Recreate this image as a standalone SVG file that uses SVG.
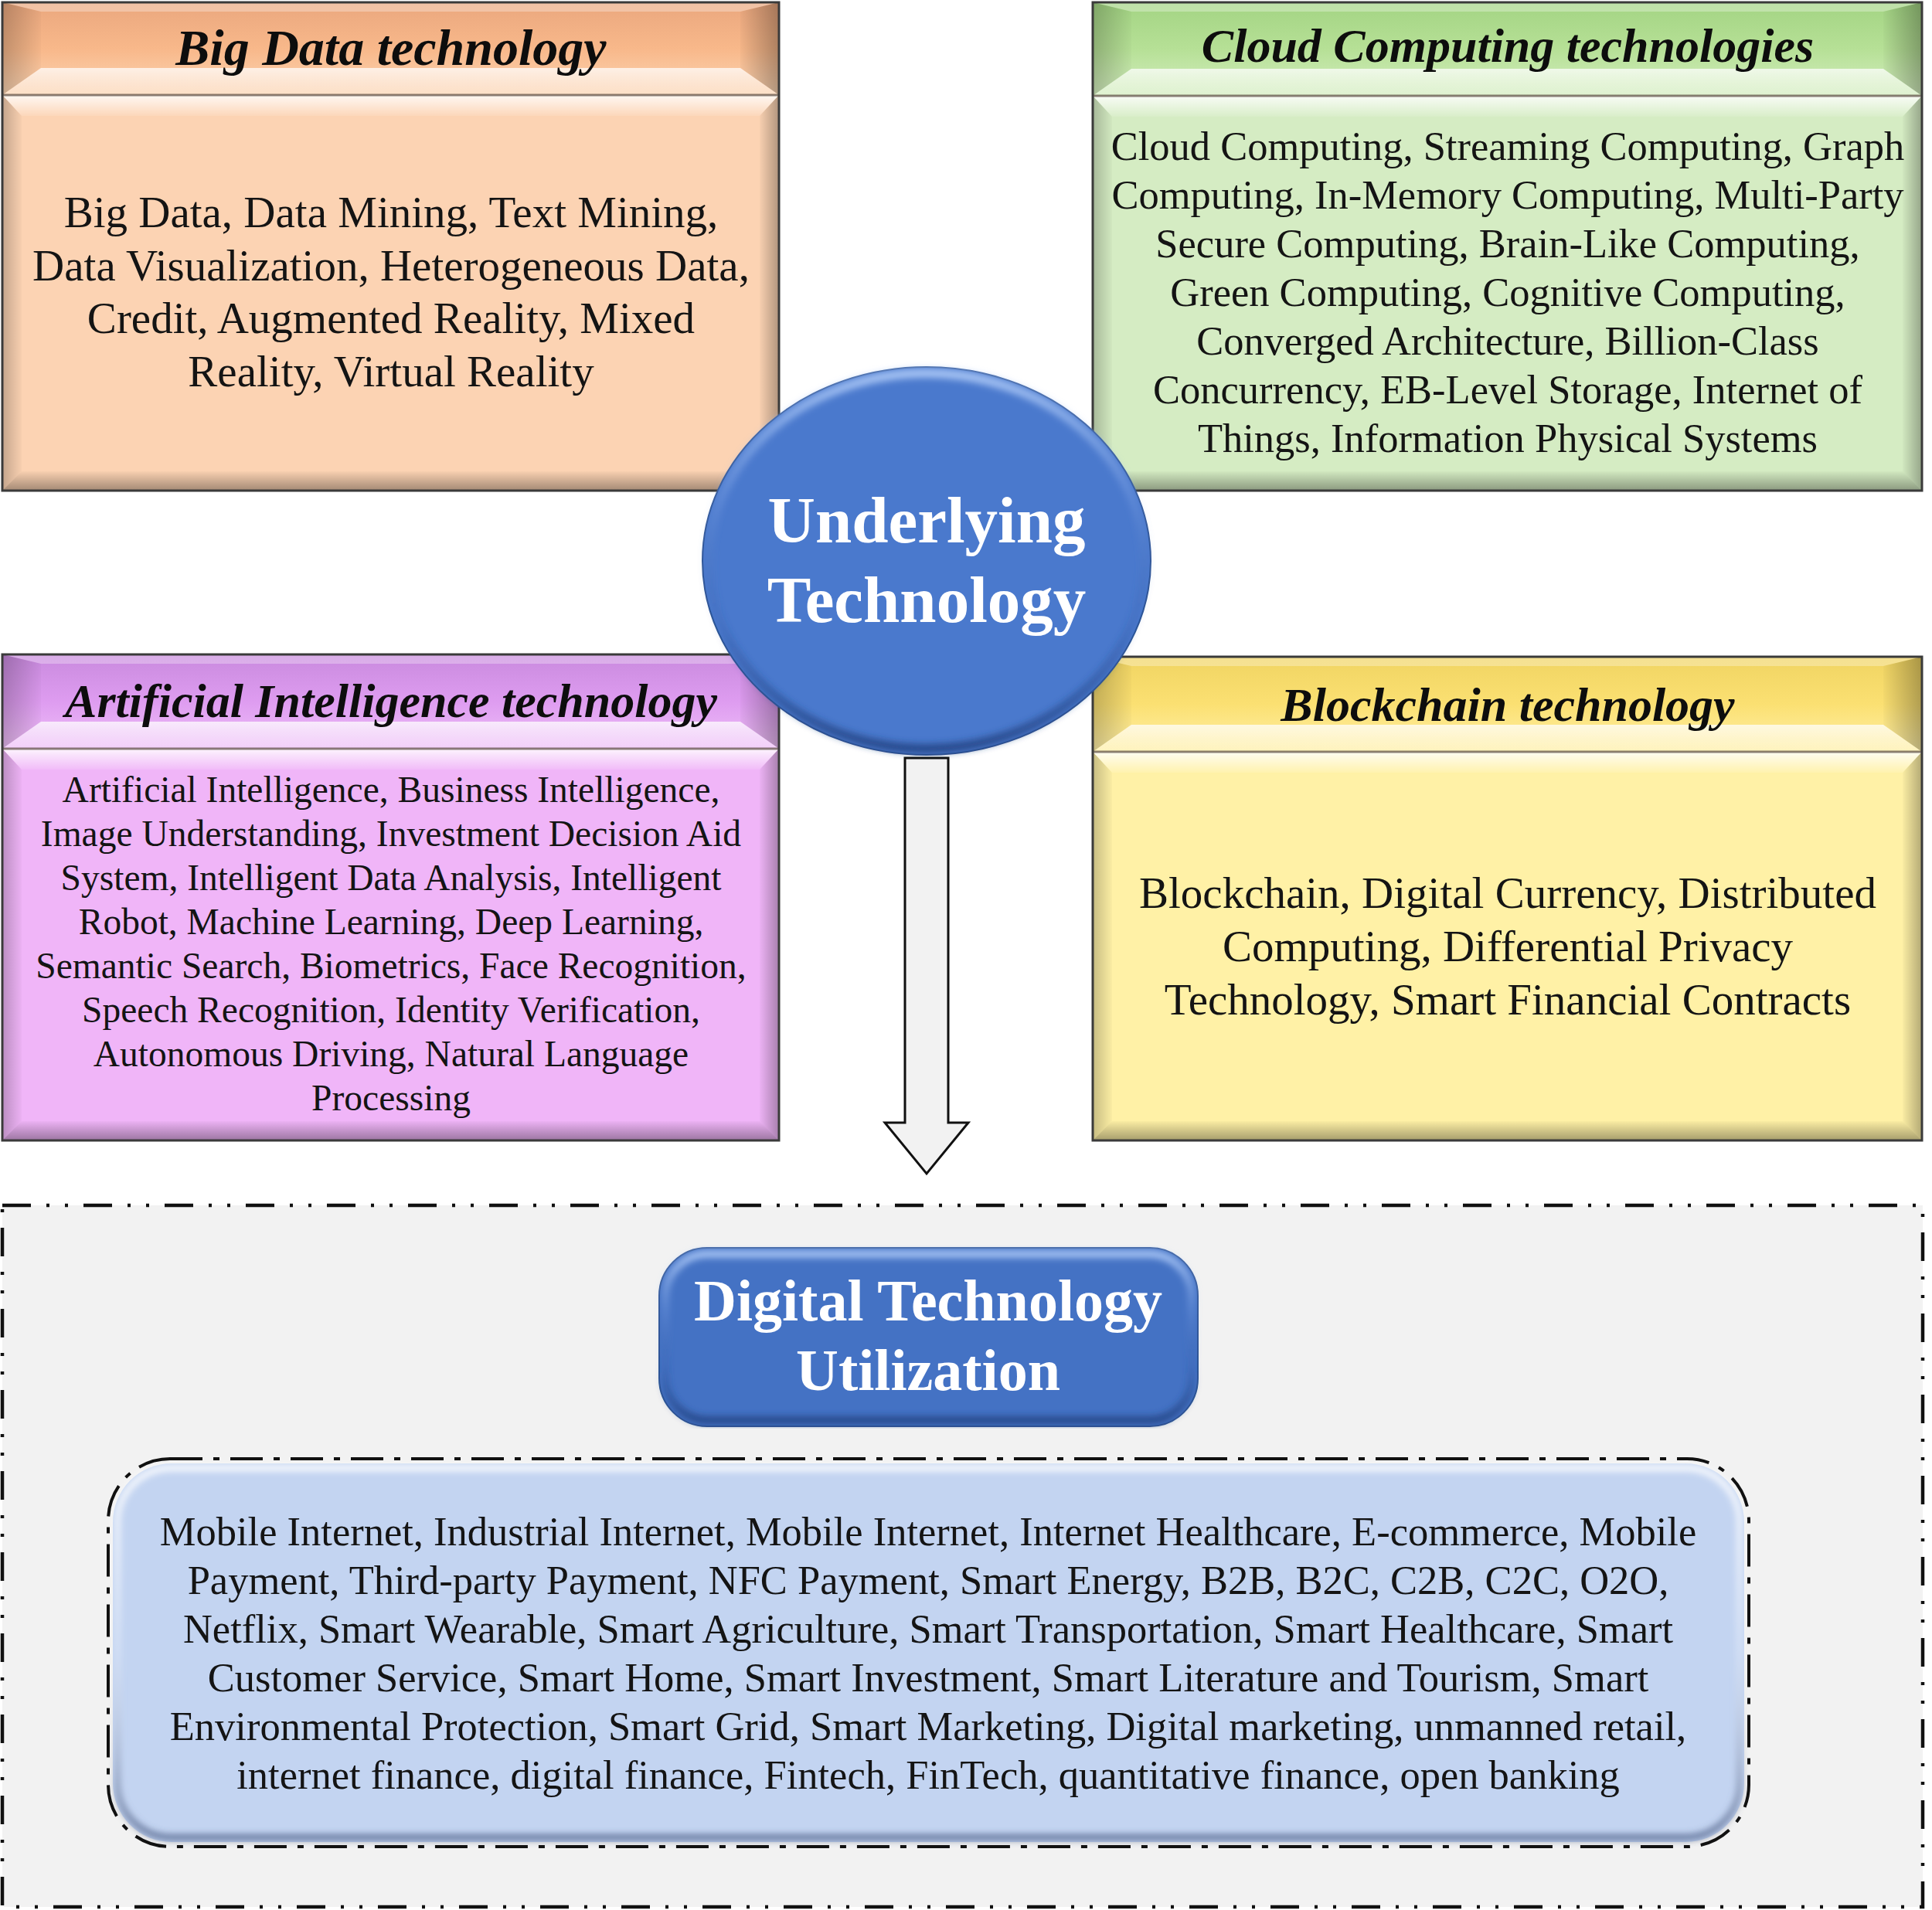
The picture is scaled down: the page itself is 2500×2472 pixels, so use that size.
<svg xmlns="http://www.w3.org/2000/svg" width="2500" height="2472" viewBox="0 0 2500 2472">
<style>
.hd{font-family:"Liberation Serif","Times New Roman",serif;font-weight:bold;font-style:italic;fill:#0d0d0d;text-anchor:middle}
.bd{font-family:"Liberation Serif","Times New Roman",serif;fill:#141414;text-anchor:middle}
.wt{font-family:"Liberation Serif","Times New Roman",serif;font-weight:bold;fill:#ffffff;text-anchor:middle}
.frame{fill:none;stroke:#3a3a3a;stroke-width:3}
.sep{stroke:#5a4a40;stroke-width:3;stroke-opacity:0.7}
.ovT{fill:url(#gTop)}
.ovL{fill:url(#gLeft)}
.ovR{fill:url(#gRight)}
.ovB{fill:url(#gBot)}
.hT{fill:#ffffff;fill-opacity:0.3}
.hB{fill:url(#gHBot)}
</style>
<defs>
<linearGradient id="gTop" x1="0" y1="0" x2="0" y2="1"><stop offset="0" stop-color="#fff" stop-opacity="0.85"/><stop offset="1" stop-color="#fff" stop-opacity="0.1"/></linearGradient>
<linearGradient id="gLeft" x1="0" y1="0" x2="1" y2="0"><stop offset="0" stop-color="#000" stop-opacity="0.22"/><stop offset="1" stop-color="#000" stop-opacity="0.02"/></linearGradient>
<linearGradient id="gRight" x1="0" y1="0" x2="1" y2="0"><stop offset="0" stop-color="#000" stop-opacity="0.02"/><stop offset="1" stop-color="#000" stop-opacity="0.3"/></linearGradient>
<linearGradient id="gBot" x1="0" y1="0" x2="0" y2="1"><stop offset="0" stop-color="#000" stop-opacity="0.02"/><stop offset="1" stop-color="#000" stop-opacity="0.35"/></linearGradient>
<linearGradient id="gHBot" x1="0" y1="0" x2="0" y2="1"><stop offset="0" stop-color="#fff" stop-opacity="0.75"/><stop offset="1" stop-color="#fff" stop-opacity="0.25"/></linearGradient>
<linearGradient id="hOr" x1="0" y1="0" x2="0" y2="1"><stop offset="0" stop-color="#eaa77e"/><stop offset="0.5" stop-color="#f8b88a"/><stop offset="1" stop-color="#fcd6b4"/></linearGradient>
<linearGradient id="hGr" x1="0" y1="0" x2="0" y2="1"><stop offset="0" stop-color="#a3d483"/><stop offset="0.5" stop-color="#b6e096"/><stop offset="1" stop-color="#d4eec0"/></linearGradient>
<linearGradient id="hPu" x1="0" y1="0" x2="0" y2="1"><stop offset="0" stop-color="#c98ade"/><stop offset="0.5" stop-color="#de9cf0"/><stop offset="1" stop-color="#efc0f8"/></linearGradient>
<linearGradient id="hYe" x1="0" y1="0" x2="0" y2="1"><stop offset="0" stop-color="#f0d462"/><stop offset="0.5" stop-color="#fbe072"/><stop offset="1" stop-color="#fff0a8"/></linearGradient>
<linearGradient id="rim" x1="0" y1="0" x2="0" y2="1"><stop offset="0" stop-color="#a9c6f5" stop-opacity="0.95"/><stop offset="0.35" stop-color="#7fa4e6" stop-opacity="0.3"/><stop offset="0.65" stop-color="#2a4f96" stop-opacity="0.15"/><stop offset="1" stop-color="#1f3f7d" stop-opacity="0.8"/></linearGradient>
<linearGradient id="rimL" x1="0" y1="0" x2="0" y2="1"><stop offset="0" stop-color="#ffffff" stop-opacity="0.9"/><stop offset="0.5" stop-color="#ffffff" stop-opacity="0.3"/><stop offset="1" stop-color="#3d4f78" stop-opacity="0.7"/></linearGradient>
<filter id="blur4" x="-5%" y="-5%" width="110%" height="110%"><feGaussianBlur stdDeviation="4"/></filter>
</defs>

<!-- Big Data technology -->
<g id="node-bigdata">
<rect x="3" y="3" width="1005" height="120" fill="url(#hOr)"/>
<polygon class="hT" points="3,3 1008,3 958,15 53,15"/>
<polygon class="ovL" points="3,3 53,15 53,88 3,123"/>
<polygon class="ovR" points="1008,3 958,15 958,88 1008,123"/>
<polygon class="hB" points="3,123 53,88 958,88 1008,123"/>
<rect x="3" y="123" width="1005" height="512" fill="#fcd3b3"/>
<polygon class="ovT" points="3,123 1008,123 983,150 28,150"/>
<polygon class="ovL" points="3,123 28,150 28,610 3,635"/>
<polygon class="ovR" points="1008,123 983,150 983,610 1008,635"/>
<polygon class="ovB" points="3,635 28,610 983,610 1008,635"/>
<line class="sep" x1="3" y1="123" x2="1008" y2="123"/>
<rect class="frame" x="3" y="3" width="1005" height="632"/>
<text class="hd" x="506" y="84" font-size="66">Big Data technology</text>
<text class="bd" font-size="57"><tspan x="506" y="294">Big Data, Data Mining, Text Mining,</tspan><tspan x="506" y="362.5">Data Visualization, Heterogeneous Data,</tspan><tspan x="506" y="431">Credit, Augmented Reality, Mixed</tspan><tspan x="506" y="499.5">Reality, Virtual Reality</tspan></text>
</g>

<!-- Cloud Computing technologies -->
<g id="node-cloud">
<rect x="1414" y="3" width="1073" height="121" fill="url(#hGr)"/>
<polygon class="hT" points="1414,3 2487,3 2437,15 1464,15"/>
<polygon class="ovL" points="1414,3 1464,15 1464,89 1414,124"/>
<polygon class="ovR" points="2487,3 2437,15 2437,89 2487,124"/>
<polygon class="hB" points="1414,124 1464,89 2437,89 2487,124"/>
<rect x="1414" y="124" width="1073" height="511" fill="#d5ecc3"/>
<polygon class="ovT" points="1414,124 2487,124 2462,151 1439,151"/>
<polygon class="ovL" points="1414,124 1439,151 1439,610 1414,635"/>
<polygon class="ovR" points="2487,124 2462,151 2462,610 2487,635"/>
<polygon class="ovB" points="1414,635 1439,610 2462,610 2487,635"/>
<line class="sep" x1="1414" y1="124" x2="2487" y2="124"/>
<rect class="frame" x="1414" y="3" width="1073" height="632"/>
<text class="hd" x="1951" y="80" font-size="62">Cloud Computing technologies</text>
<text class="bd" font-size="52.5"><tspan x="1951" y="207">Cloud Computing, Streaming Computing, Graph</tspan><tspan x="1951" y="270">Computing, In-Memory Computing, Multi-Party</tspan><tspan x="1951" y="333">Secure Computing, Brain-Like Computing,</tspan><tspan x="1951" y="396">Green Computing, Cognitive Computing,</tspan><tspan x="1951" y="459">Converged Architecture, Billion-Class</tspan><tspan x="1951" y="522">Concurrency, EB-Level Storage, Internet of</tspan><tspan x="1951" y="585">Things, Information Physical Systems</tspan></text>
</g>

<!-- Artificial Intelligence technology -->
<g id="node-ai">
<rect x="3" y="847" width="1005" height="122" fill="url(#hPu)"/>
<polygon class="hT" points="3,847 1008,847 958,859 53,859"/>
<polygon class="ovL" points="3,847 53,859 53,934 3,969"/>
<polygon class="ovR" points="1008,847 958,859 958,934 1008,969"/>
<polygon class="hB" points="3,969 53,934 958,934 1008,969"/>
<rect x="3" y="969" width="1005" height="507" fill="#f0b5f8"/>
<polygon class="ovT" points="3,969 1008,969 983,996 28,996"/>
<polygon class="ovL" points="3,969 28,996 28,1451 3,1476"/>
<polygon class="ovR" points="1008,969 983,996 983,1451 1008,1476"/>
<polygon class="ovB" points="3,1476 28,1451 983,1451 1008,1476"/>
<line class="sep" x1="3" y1="969" x2="1008" y2="969"/>
<rect class="frame" x="3" y="847" width="1005" height="629"/>
<text class="hd" x="506" y="928" font-size="62">Artificial Intelligence technology</text>
<text class="bd" font-size="47.5"><tspan x="506" y="1038">Artificial Intelligence, Business Intelligence,</tspan><tspan x="506" y="1095">Image Understanding, Investment Decision Aid</tspan><tspan x="506" y="1152">System, Intelligent Data Analysis, Intelligent</tspan><tspan x="506" y="1209">Robot, Machine Learning, Deep Learning,</tspan><tspan x="506" y="1266">Semantic Search, Biometrics, Face Recognition,</tspan><tspan x="506" y="1323">Speech Recognition, Identity Verification,</tspan><tspan x="506" y="1380">Autonomous Driving, Natural Language</tspan><tspan x="506" y="1437">Processing</tspan></text>
</g>

<!-- Blockchain technology -->
<g id="node-blockchain">
<rect x="1414" y="850" width="1073" height="123" fill="url(#hYe)"/>
<polygon class="hT" points="1414,850 2487,850 2437,862 1464,862"/>
<polygon class="ovL" points="1414,850 1464,862 1464,938 1414,973"/>
<polygon class="ovR" points="2487,850 2437,862 2437,938 2487,973"/>
<polygon class="hB" points="1414,973 1464,938 2437,938 2487,973"/>
<rect x="1414" y="973" width="1073" height="503" fill="#fff1a6"/>
<polygon class="ovT" points="1414,973 2487,973 2462,1000 1439,1000"/>
<polygon class="ovL" points="1414,973 1439,1000 1439,1451 1414,1476"/>
<polygon class="ovR" points="2487,973 2462,1000 2462,1451 2487,1476"/>
<polygon class="ovB" points="1414,1476 1439,1451 2462,1451 2487,1476"/>
<line class="sep" x1="1414" y1="973" x2="2487" y2="973"/>
<rect class="frame" x="1414" y="850" width="1073" height="626"/>
<text class="hd" x="1951" y="933" font-size="62">Blockchain technology</text>
<text class="bd" font-size="57"><tspan x="1951" y="1175">Blockchain, Digital Currency, Distributed</tspan><tspan x="1951" y="1244">Computing, Differential Privacy</tspan><tspan x="1951" y="1313">Technology, Smart Financial Contracts</tspan></text>
</g>

<!-- connectors -->
<g id="connectors">
<polygon points="1171,981 1227,981 1227,1453 1253,1453 1199,1519 1145,1453 1171,1453" fill="#f2f2f2" stroke="#111" stroke-width="3" stroke-linejoin="miter"/>
</g>

<!-- Underlying Technology -->
<g id="node-underlying">
<ellipse cx="1199" cy="726" rx="290" ry="251" fill="#4a79cd" stroke="#2f5597" stroke-width="2"/>
<ellipse cx="1199" cy="726" rx="282" ry="243" fill="none" stroke="url(#rim)" stroke-width="12" filter="url(#blur4)"/>
<text class="wt" x="1199" y="702" font-size="85">Underlying</text>
<text class="wt" x="1199" y="805" font-size="85">Technology</text>
</g>

<!-- Digital Technology Utilization area -->
<g id="group-utilization">
<rect x="3" y="1560" width="2485" height="908" fill="#f2f2f2" stroke="#111" stroke-width="4.5" stroke-dasharray="37 20 4 20 4 20"/>
</g>

<g id="node-dtu">
<rect x="853" y="1615" width="697" height="231" rx="62" fill="#4472c4" stroke="#2f5597" stroke-width="2"/>
<rect x="861" y="1623" width="681" height="215" rx="55" fill="none" stroke="url(#rim)" stroke-width="10" filter="url(#blur4)"/>
<text class="wt" x="1201" y="1709" font-size="76">Digital Technology</text>
<text class="wt" x="1201" y="1799" font-size="76">Utilization</text>
</g>

<g id="node-list">
<rect x="146" y="1894" width="2111" height="490" rx="76" fill="#c3d4f1"/>
<rect x="152" y="1900" width="2099" height="478" rx="70" fill="none" stroke="url(#rimL)" stroke-width="8" filter="url(#blur4)"/>
<rect x="140" y="1888" width="2123" height="502" rx="80" fill="none" stroke="#111" stroke-width="4" stroke-dasharray="42 14 8 14"/>
<text class="bd" font-size="52.5"><tspan x="1201" y="2000">Mobile Internet, Industrial Internet, Mobile Internet, Internet Healthcare, E-commerce, Mobile</tspan><tspan x="1201" y="2063">Payment, Third-party Payment, NFC Payment, Smart Energy, B2B, B2C, C2B, C2C, O2O,</tspan><tspan x="1201" y="2126">Netflix, Smart Wearable, Smart Agriculture, Smart Transportation, Smart Healthcare, Smart</tspan><tspan x="1201" y="2189">Customer Service, Smart Home, Smart Investment, Smart Literature and Tourism, Smart</tspan><tspan x="1201" y="2252">Environmental Protection, Smart Grid, Smart Marketing, Digital marketing, unmanned retail,</tspan><tspan x="1201" y="2315">internet finance, digital finance, Fintech, FinTech, quantitative finance, open banking</tspan></text>
</g>
</svg>
